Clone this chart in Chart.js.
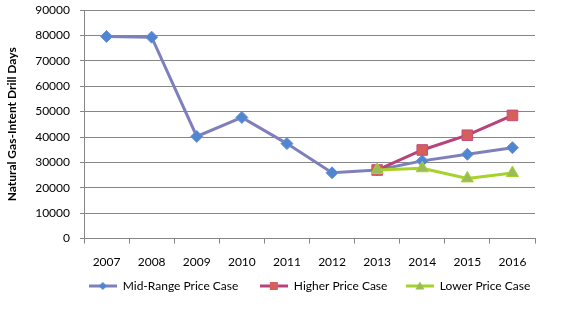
<!DOCTYPE html>
<html>
<head>
<meta charset="utf-8">
<script src="https://cdn.jsdelivr.net/npm/chart.js@4/dist/chart.umd.min.js"></script>
<style>
  html, body { margin: 0; padding: 0; background: #fff; }
  #wrap { width: 580px; height: 319px; position: relative; }
</style>
</head>
<body>
<div id="wrap"><canvas id="c" width="580" height="319"></canvas></div>
<script>
const years = ['2007','2008','2009','2010','2011','2012','2013','2014','2015','2016'];
const midRange = [79600, 79300, 40200, 47700, 37400, 25900, 27000, 30600, 33200, 35800];
const higher   = [null, null, null, null, null, null, 27000, 34900, 40700, 48500];
const lower    = [null, null, null, null, null, null, 27000, 27700, 23700, 25800];
const yTicks   = [0, 10000, 20000, 30000, 40000, 50000, 60000, 70000, 80000, 90000];
const seriesNames = ['Mid-Range Price Case', 'Higher Price Case', 'Lower Price Case'];

const FONT = 'Lato, "Open Sans", "DejaVu Sans", sans-serif';
const GRID = '#868686';

const styles = [
  { line: '#7f80bb', fill: '#4f86cf', border: '#6a8fd0', point: 'rectRot', r: 6 },
  { line: '#b7437a', fill: '#d65f5b', border: '#c0507a', point: 'rect', r: 7.5 },
  { line: '#a6d22a', fill: '#9bbb59', border: '#a6d22a', point: 'triangle', r: 7 }
];

function legendIcon(s) {
  const cv = document.createElement('canvas');
  cv.width = 28; cv.height = 14;
  const ctx = cv.getContext('2d');
  ctx.strokeStyle = s.line; ctx.lineWidth = 3;
  ctx.beginPath(); ctx.moveTo(0, 7); ctx.lineTo(28, 7); ctx.stroke();
  ctx.fillStyle = s.fill;
  ctx.beginPath();
  if (s.point === 'rectRot') {
    ctx.moveTo(14, 3); ctx.lineTo(18, 7); ctx.lineTo(14, 11); ctx.lineTo(10, 7);
  } else if (s.point === 'rect') {
    ctx.rect(10, 3, 8, 8);
  } else {
    ctx.moveTo(14, 2.5); ctx.lineTo(18.5, 10.5); ctx.lineTo(9.5, 10.5);
  }
  ctx.closePath(); ctx.fill();
  return cv;
}
const icons = styles.map(legendIcon);
const GAPS = ['\u00A0\u00A0\u00A0\u00A0\u00A0\u00A0\u00A0', '\u00A0\u00A0\u00A0\u00A0\u00A0\u00A0', ''];

const values = [midRange, higher, lower];
const datasets = values.map((v, i) => ({
  label: seriesNames[i],
  data: v,
  borderColor: styles[i].line,
  backgroundColor: styles[i].fill,
  borderWidth: 3,
  pointStyle: styles[i].point,
  pointRadius: styles[i].r,
  pointBackgroundColor: styles[i].fill,
  pointBorderColor: styles[i].border,
  pointBorderWidth: 1,
  spanGaps: false,
  tension: 0,
  order: 3 - i
}));

new Chart(document.getElementById('c'), {
  type: 'line',
  data: { labels: years, datasets },
  options: {
    responsive: false,
    animation: false,
    devicePixelRatio: 1,
    layout: { padding: { top: 10, right: 45, bottom: 17, left: 0 } },
    plugins: {
      tooltip: { enabled: false },
      legend: {
        position: 'bottom',
        fullSize: false,
        labels: {
          font: { family: FONT, size: 12 },
          color: '#000',
          usePointStyle: true,
          pointStyleWidth: 28,
          boxHeight: 14,
          padding: 0,
          generateLabels: (chart) => chart.data.datasets.map((d, i) => ({
            text: d.label + GAPS[i],
            pointStyle: icons[i],
            fillStyle: d.backgroundColor,
            strokeStyle: d.borderColor,
            lineWidth: 0,
            hidden: false,
            datasetIndex: i,
            fontColor: '#000'
          }))
        }
      }
    },
    scales: {
      x: {
        type: 'category',
        offset: true,
        grid: { display: true, offset: true, drawOnChartArea: false, drawTicks: true, tickLength: 5, color: GRID },
        border: { display: true, color: GRID, width: 1 },
        ticks: { font: { family: FONT, size: 12 }, color: '#000', padding: 11, maxRotation: 0, autoSkip: false }
      },
      y: {
        min: 0, max: 90000,
        afterBuildTicks: (scale) => { scale.ticks = yTicks.map(v => ({ value: v })); },
        afterFit: (scale) => { scale.width = 84; scale.paddingTop = 0; scale.paddingBottom = 0; },
        grid: { color: GRID, lineWidth: 1, drawTicks: true, tickLength: 4 },
        border: { display: true, color: GRID, width: 1 },
        ticks: { font: { family: FONT, size: 12 }, color: '#000', padding: 10, callback: (v) => String(v) },
        title: {
          display: true,
          text: 'Natural Gas-Intent Drill Days',
          font: { family: FONT, size: 12, weight: 'bold' },
          color: '#000',
          padding: { top: 5, bottom: 0 }
        }
      }
    }
  }
});
</script>
</body>
</html>
